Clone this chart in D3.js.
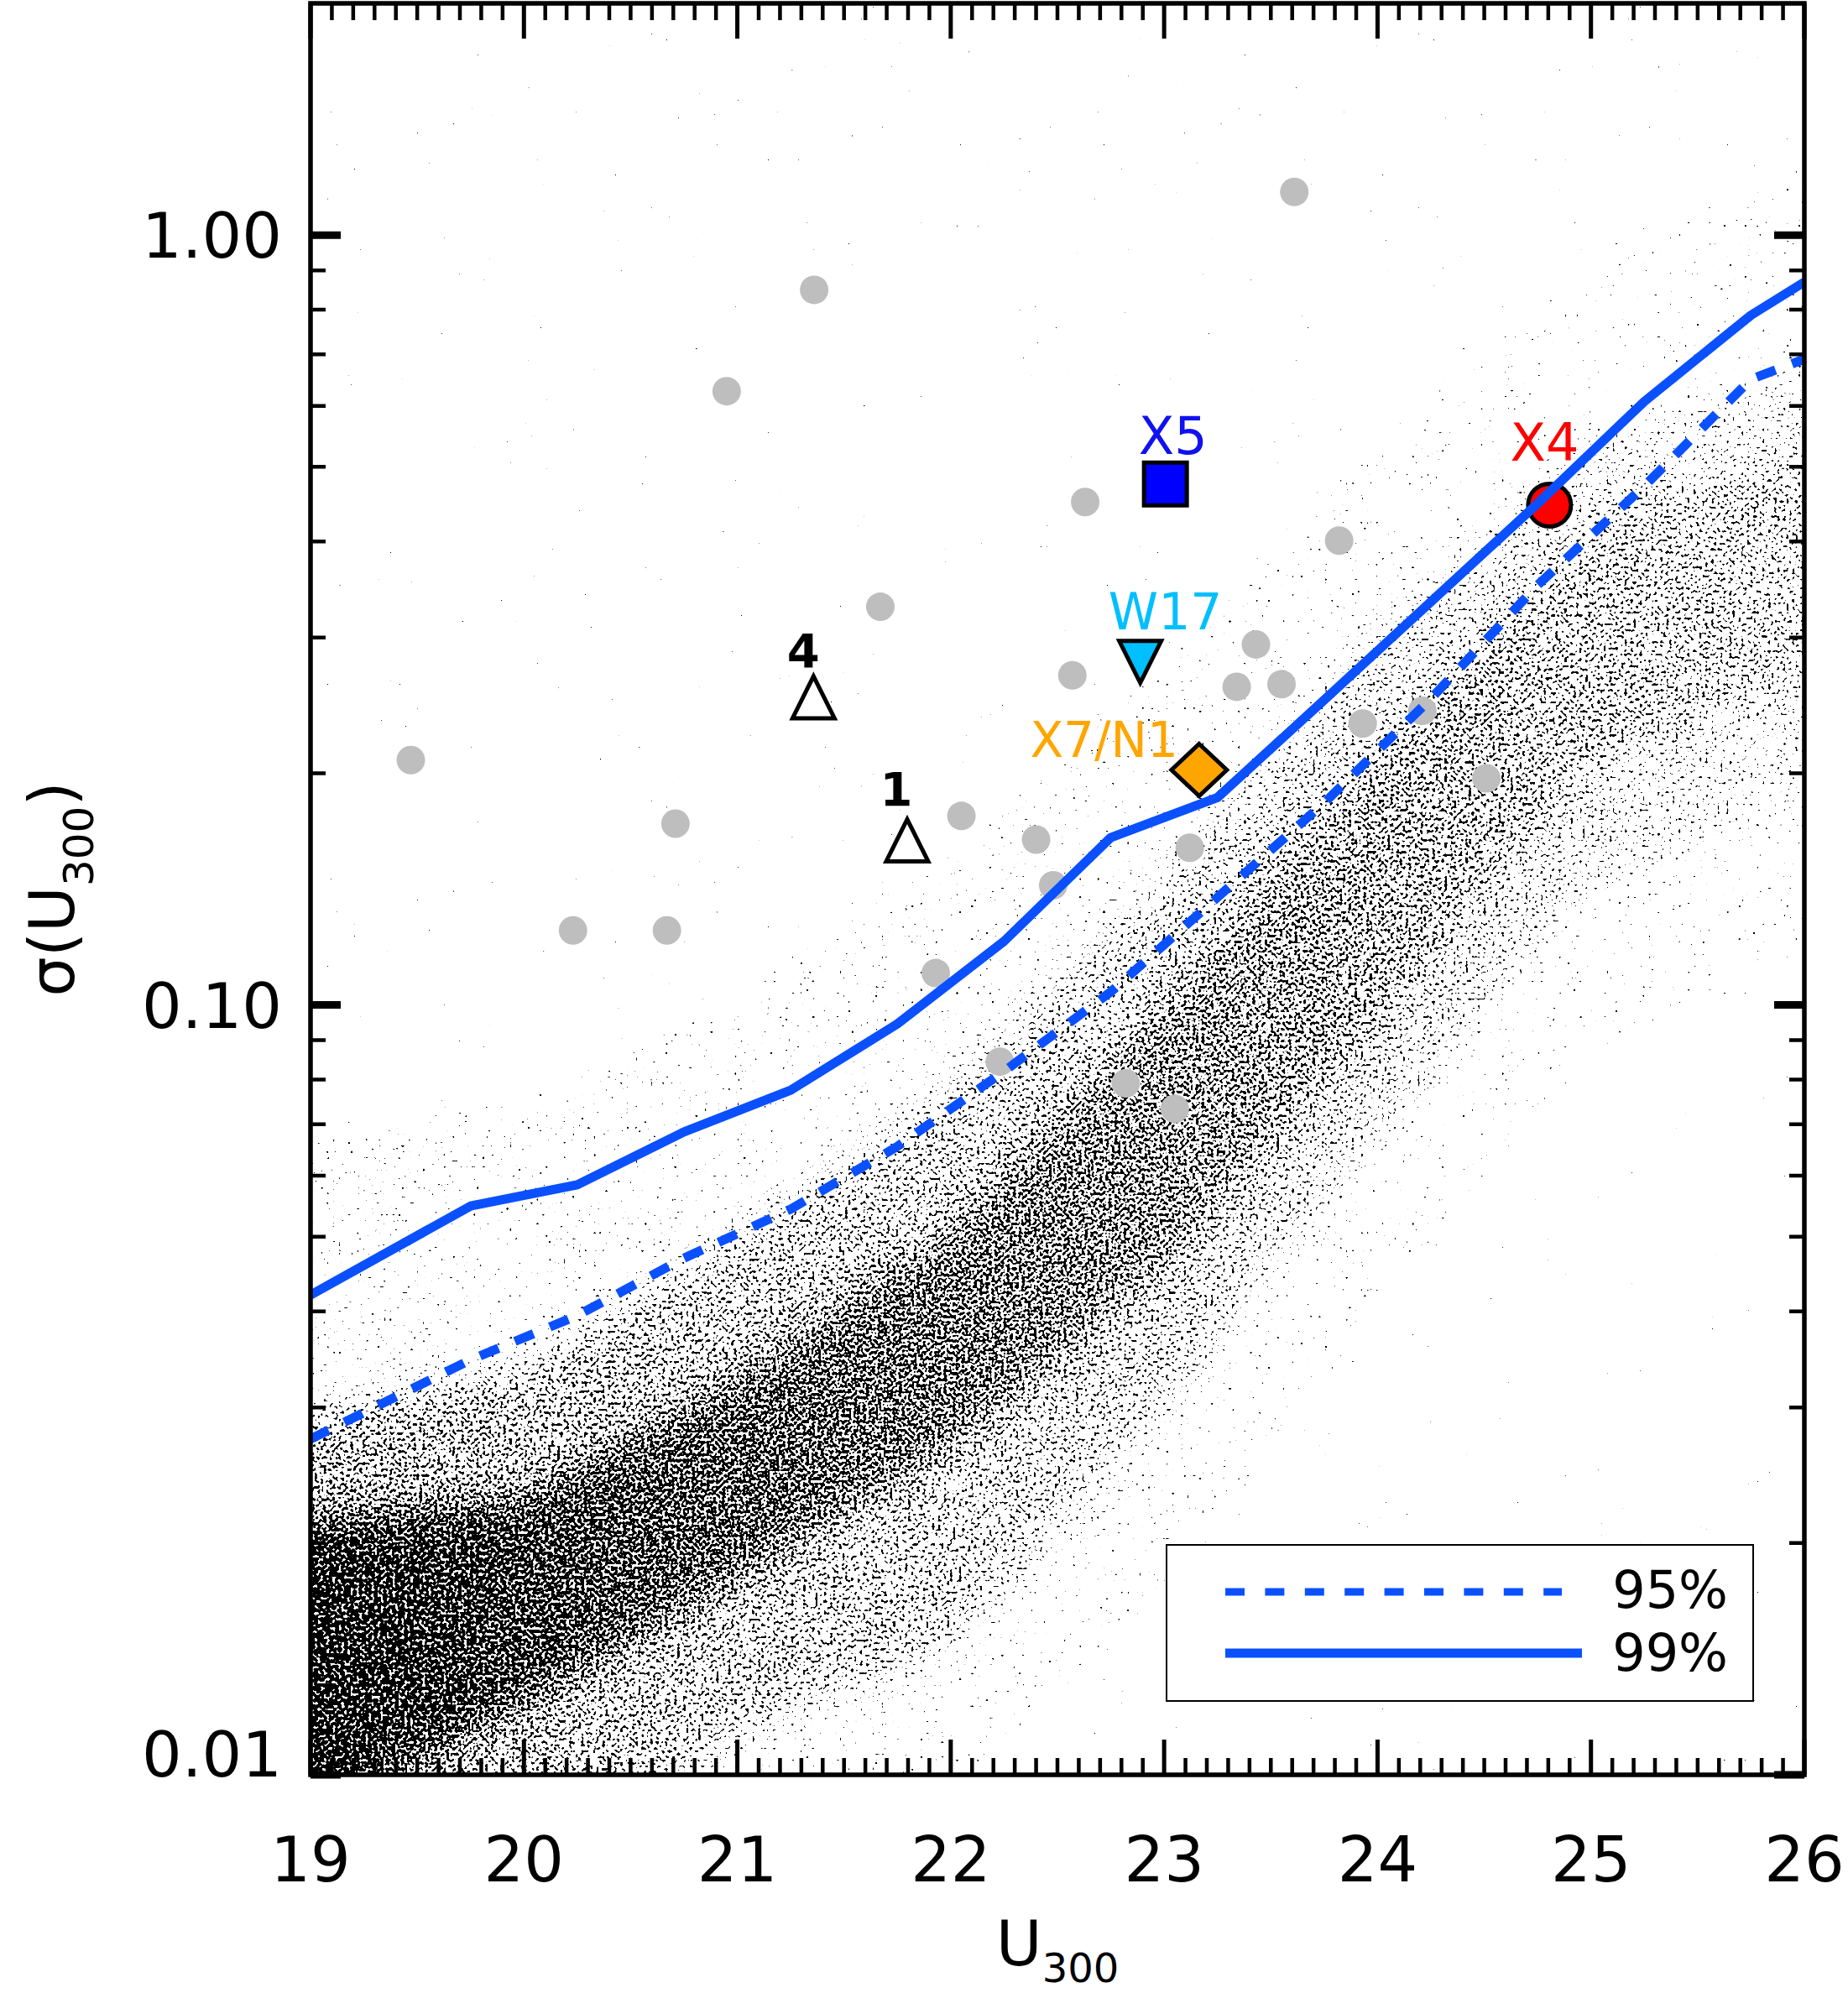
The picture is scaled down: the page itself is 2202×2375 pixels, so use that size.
<!DOCTYPE html>
<html>
<head>
<meta charset="utf-8">
<script src="https://cdn.jsdelivr.net/npm/d3@7"></script>
<style>
  body { margin: 0; background: #fff; }
  text { font-family: "DejaVu Sans", sans-serif; }
</style>
</head>
<body>
<svg id="chart" width="2202" height="2375"></svg>
<script>
// ---- data ----
var uTicks = [19, 20, 21, 22, 23, 24, 25, 26];
var sigmaTicks = [0.01, 0.1, 1];
var sigmaTickLabels = ["0.01", "0.10", "1.00"];

// detection limits (blue lines)
var limitU  = [19.0, 19.75, 20.25, 20.75, 21.25, 21.75, 22.25, 22.75, 23.25, 23.75, 24.25, 24.75, 25.25, 25.75, 26.0];
var limit99 = [0.042, 0.0548, 0.0584, 0.0684, 0.0775, 0.0945, 0.121, 0.165, 0.186, 0.249, 0.334, 0.448, 0.608, 0.787, 0.869];
var limit95 = [0.0273, 0.0346, 0.0395, 0.0469, 0.0543, 0.0655, 0.0820, 0.104, 0.138, 0.183, 0.250, 0.351, 0.472, 0.650, 0.690];

// grey candidates
var greyU     = [21.36, 20.95, 23.61, 22.63, 21.67, 23.82, 22.57, 23.43, 23.34, 23.55, 23.93, 24.21, 24.51,
                 19.47, 20.71, 22.05, 22.40, 23.12, 22.48, 20.23, 20.67, 21.93, 22.23, 22.82, 23.05];
var greySigma = [0.849, 0.627, 1.138, 0.450, 0.329, 0.401, 0.268, 0.294, 0.259, 0.261, 0.232, 0.241, 0.197,
                 0.208, 0.172, 0.176, 0.164, 0.160, 0.143, 0.125, 0.125, 0.110, 0.0844, 0.0791, 0.0733];

// named sources
var srcLabel = ["X5", "X4", "W17", "X7/N1", "4", "1"];
var srcU     = [23.006, 24.806, 22.888, 23.164, 21.357, 21.796];
var srcSigma = [0.475, 0.446, 0.279, 0.202, 0.251, 0.1636];
var srcShape = ["square", "circle", "triDown", "diamond", "triUp", "triUp"];

// background field-star cloud, described by density bands per U column
var cloudU    = [19, 20, 21, 22, 23, 24, 25, 26];
var sparseTop = [0.0708, 0.0794, 0.112, 0.166, 0.316, 0.603, 1.00, 1.41];
var haloTop   = [0.0282, 0.0339, 0.0501, 0.0776, 0.148, 0.302, 0.537, 0.724];
var coreTop   = [0.0209, 0.0229, 0.0331, 0.0513, 0.102, 0.214, 0.417, 0.562];
var coreBot   = [0.00794, 0.0123, 0.0178, 0.0263, 0.0447, 0.0933, 0.204, 0.282];
var haloBot   = [0.00631, 0.00794, 0.0112, 0.0148, 0.0295, 0.0676, 0.141, 0.209];
var sparseBot = [0.005, 0.005, 0.00631, 0.0089, 0.0158, 0.0355, 0.0794, 0.126];
var coreCov   = [0.64, 0.54, 0.46, 0.40, 0.32, 0.24, 0.16, 0.10];
var haloCov   = [0.25, 0.20, 0.16, 0.13, 0.10, 0.075, 0.05, 0.035];
var sparseCov = [0.016, 0.015, 0.014, 0.013, 0.012, 0.011, 0.010, 0.009];
var fieldCov  = 0.0003;

var legendNames = ["95%", "99%"];

// ---- styles ----
var blue = "#0a50ff";
var lineW = 11;
var dash = "24,21";
var srcFill = { "X5": "#0000ff", "X4": "#ff0000", "W17": "#00bfff", "X7/N1": "#ffa500", "4": "none", "1": "none" };
var srcText = { "X5": "#1010f0", "X4": "#ff0000", "W17": "#00bfff", "X7/N1": "#ffa500", "4": "#000", "1": "#000" };
// label offsets from marker centre: dx, dy, anchor, size, weight
var labelPos = {
  "X5":    [9, -36, "middle", 62, "normal"],
  "X4":    [-6, -53, "middle", 62, "normal"],
  "W17":   [30, -39, "middle", 60, "normal"],
  "X7/N1": [-25, -15, "end", 58, "normal"],
  "4":     [-12, -36, "middle", 56, "bold"],
  "1":     [-13, -41, "middle", 56, "bold"]
};

var W = 2202, H = 2375;
var L = 370, R = 2150, T = 4, B = 2115;

var x = d3.scaleLinear().domain([19, 26]).range([L, R]);
var y = d3.scaleLog().domain([0.01, 2]).range([B, T]);
// coverage fraction -> density alpha fed to the stipple filter
var covAlpha = d3.scaleLinear()
  .domain([0, 0.0002, 0.001, 0.005, 0.02, 0.05, 0.1, 0.2, 0.35, 0.5, 0.65])
  .range([0, 0.19, 0.21, 0.245, 0.29, 0.34, 0.38, 0.43, 0.49, 0.55, 0.61]);

var svg = d3.select("#chart");
svg.append("rect").attr("width", W).attr("height", H).attr("fill", "#fff");

var defs = svg.append("defs");
defs.append("clipPath").attr("id", "plotclip")
  .append("rect").attr("x", L).attr("y", T).attr("width", R - L).attr("height", B - T);

var f = defs.append("filter")
  .attr("id", "stipple")
  .attr("filterUnits", "userSpaceOnUse")
  .attr("x", 250).attr("y", -150).attr("width", 2050).attr("height", 2450)
  .attr("color-interpolation-filters", "sRGB");
f.append("feGaussianBlur").attr("in", "SourceGraphic").attr("stdDeviation", 22).attr("result", "dens");
f.append("feTurbulence").attr("type", "fractalNoise").attr("baseFrequency", 0.28)
  .attr("numOctaves", 1).attr("seed", 11).attr("result", "turb");
f.append("feColorMatrix").attr("in", "turb").attr("type", "matrix")
  .attr("values", "0 0 0 0 0  0 0 0 0 0  0 0 0 0 0  1 0 0 0 0").attr("result", "noise");
f.append("feComposite").attr("in", "dens").attr("in2", "noise").attr("operator", "arithmetic")
  .attr("k1", 0).attr("k2", 40).attr("k3", -40).attr("k4", 0);

// ---- field cloud ----
var cloudG = svg.append("g").attr("clip-path", "url(#plotclip)");
cloudG.append("g").attr("filter", "url(#stipple)")
  .append("rect")
  .attr("x", 250).attr("y", -150).attr("width", 2050).attr("height", 2450)
  .attr("fill", "#000").attr("fill-opacity", covAlpha(fieldCov));

var bands = [
  { id: "sparseUp", hi: sparseTop, lo: haloTop, cov: sparseCov },
  { id: "haloUp",   hi: haloTop,   lo: coreTop, cov: haloCov },
  { id: "core",     hi: coreTop,   lo: coreBot, cov: coreCov },
  { id: "haloDn",   hi: coreBot,   lo: haloBot, cov: haloCov },
  { id: "sparseDn", hi: haloBot,   lo: sparseBot, cov: sparseCov }
];

var bandG = cloudG.append("g").attr("filter", "url(#stipple)");
var last = cloudU.length - 1;
var area = d3.area()
  .x(function(d, i) { return x(d.u) + (i === 0 ? -80 : i === last ? 80 : 0); })
  .y0(function(d) { return y(d.lo); })
  .y1(function(d) { return y(d.hi); });

bands.forEach(function(b) {
  var g = defs.append("linearGradient").attr("id", "g-" + b.id)
    .attr("gradientUnits", "userSpaceOnUse")
    .attr("x1", x(19)).attr("x2", x(26)).attr("y1", 0).attr("y2", 0);
  g.selectAll("stop").data(cloudU).enter().append("stop")
    .attr("offset", function(u) { return (u - 19) / 7; })
    .attr("stop-color", "#000")
    .attr("stop-opacity", function(u, i) { return covAlpha(b.cov[i]); });
  var pts = cloudU.map(function(u, i) { return { u: u, hi: b.hi[i], lo: b.lo[i] }; });
  bandG.append("path").attr("d", area(pts)).attr("fill", "url(#g-" + b.id + ")");
});

// ---- grey candidates ----
svg.append("g").selectAll("circle")
  .data(greyU).enter().append("circle")
  .attr("cx", function(u) { return x(u); })
  .attr("cy", function(u, i) { return y(greySigma[i]); })
  .attr("r", 17)
  .attr("fill", "#bebebe");

// ---- named sources ----
function shapePath(s) {
  if (s === "square") return "M-25.5,-25.5H25.5V25.5H-25.5Z";
  if (s === "triUp") return "M0,-25L25,25H-25Z";
  if (s === "triDown") return "M-25,-25H25L0,25Z";
  if (s === "diamond") return "M0,-31L33,0L0,31L-33,0Z";
  var p = d3.path(); p.arc(0, 0, 25.5, 0, 2 * Math.PI); p.closePath(); return p.toString();
}
var srcG = svg.append("g");
srcLabel.forEach(function(lab, i) {
  var cx = x(srcU[i]), cy = y(srcSigma[i]);
  srcG.append("path")
    .attr("d", shapePath(srcShape[i]))
    .attr("transform", "translate(" + cx + "," + cy + ")")
    .attr("fill", srcFill[lab])
    .attr("stroke", "#000")
    .attr("stroke-width", 5)
    .attr("stroke-linejoin", "miter");
  var lp = labelPos[lab];
  srcG.append("text")
    .attr("x", cx + lp[0])
    .attr("y", cy + lp[1])
    .attr("text-anchor", lp[2])
    .attr("font-size", lp[3] + "px")
    .attr("font-weight", lp[4])
    .attr("fill", srcText[lab])
    .text(lab);
});

// ---- limit lines ----
var line = d3.line()
  .x(function(d) { return x(d[0]); })
  .y(function(d) { return y(d[1]); });
var lineG = svg.append("g").attr("clip-path", "url(#plotclip)");
lineG.append("path")
  .attr("d", line(limitU.map(function(u, i) { return [u, limit95[i]]; })))
  .attr("fill", "none").attr("stroke", blue).attr("stroke-width", lineW)
  .attr("stroke-dasharray", dash);
lineG.append("path")
  .attr("d", line(limitU.map(function(u, i) { return [u, limit99[i]]; })))
  .attr("fill", "none").attr("stroke", blue).attr("stroke-width", lineW)
  .attr("stroke-linejoin", "round");

// ---- axes (IDL style box) ----
var ax = svg.append("g").attr("stroke", "#000");
var xMinor = d3.range(191, 260).filter(function(v) { return v % 10 !== 0; }).map(function(v) { return v / 10; });
ax.selectAll(".xmin").data(xMinor).enter().append("path")
  .attr("d", function(v) { return "M" + x(v) + "," + B + "v-20M" + x(v) + "," + T + "v20"; })
  .attr("stroke-width", 4.5);
ax.selectAll(".xmaj").data(uTicks).enter().append("path")
  .attr("d", function(v) { return "M" + x(v) + "," + B + "v-42M" + x(v) + "," + T + "v42"; })
  .attr("stroke-width", 5);

var yMinor = [];
sigmaTicks.forEach(function(dec) {
  d3.range(2, 10).forEach(function(k) { if (k * dec < 2) yMinor.push(k * dec); });
});
ax.selectAll(".ymin").data(yMinor).enter().append("path")
  .attr("d", function(v) { return "M" + L + "," + y(v) + "h18M" + R + "," + y(v) + "h-18"; })
  .attr("stroke-width", 4.5);
ax.selectAll(".ymaj").data(sigmaTicks).enter().append("path")
  .attr("d", function(v) { return "M" + L + "," + y(v) + "h36M" + R + "," + y(v) + "h-36"; })
  .attr("stroke-width", 9);
ax.append("rect")
  .attr("x", L).attr("y", T).attr("width", R - L).attr("height", B - T)
  .attr("fill", "none").attr("stroke-width", 5.5);

// tick labels
svg.append("g").selectAll("text")
  .data(uTicks).enter().append("text")
  .attr("x", function(v) { return x(v); })
  .attr("y", 2242)
  .attr("text-anchor", "middle")
  .attr("font-size", "75px")
  .text(function(v) { return v; });

svg.append("g").selectAll("text")
  .data(sigmaTicks).enter().append("text")
  .attr("x", 336)
  .attr("y", function(v) { return Math.min(y(v), B - 25) + 27; })
  .attr("text-anchor", "end")
  .attr("font-size", "75px")
  .text(function(v, i) { return sigmaTickLabels[i]; });

// axis titles
var xt = svg.append("text")
  .attr("x", (L + R) / 2)
  .attr("y", 2342)
  .attr("text-anchor", "middle")
  .attr("font-size", "75px");
xt.append("tspan").text("U");
xt.append("tspan").attr("dy", 20).attr("font-size", "48px").text("300");

var yt = svg.append("text")
  .attr("transform", "translate(88," + (T + B) / 2 + ") rotate(-90)")
  .attr("text-anchor", "middle")
  .attr("font-size", "75px");
yt.append("tspan").text("\u03c3(U");
yt.append("tspan").attr("dy", 23).attr("font-size", "50px").text("300");
yt.append("tspan").attr("dy", -23).text(")");

// ---- legend ----
var lg = svg.append("g");
lg.append("rect")
  .attr("x", 1390).attr("y", 1841).attr("width", 699).attr("height", 186)
  .attr("fill", "#fff").attr("stroke", "#000").attr("stroke-width", 2);
lg.append("line")
  .attr("x1", 1460).attr("x2", 1861).attr("y1", 1897).attr("y2", 1897)
  .attr("stroke", blue).attr("stroke-width", 9).attr("stroke-dasharray", "23,24.4");
lg.append("line")
  .attr("x1", 1460).attr("x2", 1885).attr("y1", 1970).attr("y2", 1970)
  .attr("stroke", blue).attr("stroke-width", 11);
lg.selectAll(".lt").data(legendNames).enter().append("text")
  .attr("x", 2059)
  .attr("y", function(d, i) { return 1916 + i * 75; })
  .attr("text-anchor", "end")
  .attr("font-size", "62px")
  .text(function(d) { return d; });
</script>
</body>
</html>
